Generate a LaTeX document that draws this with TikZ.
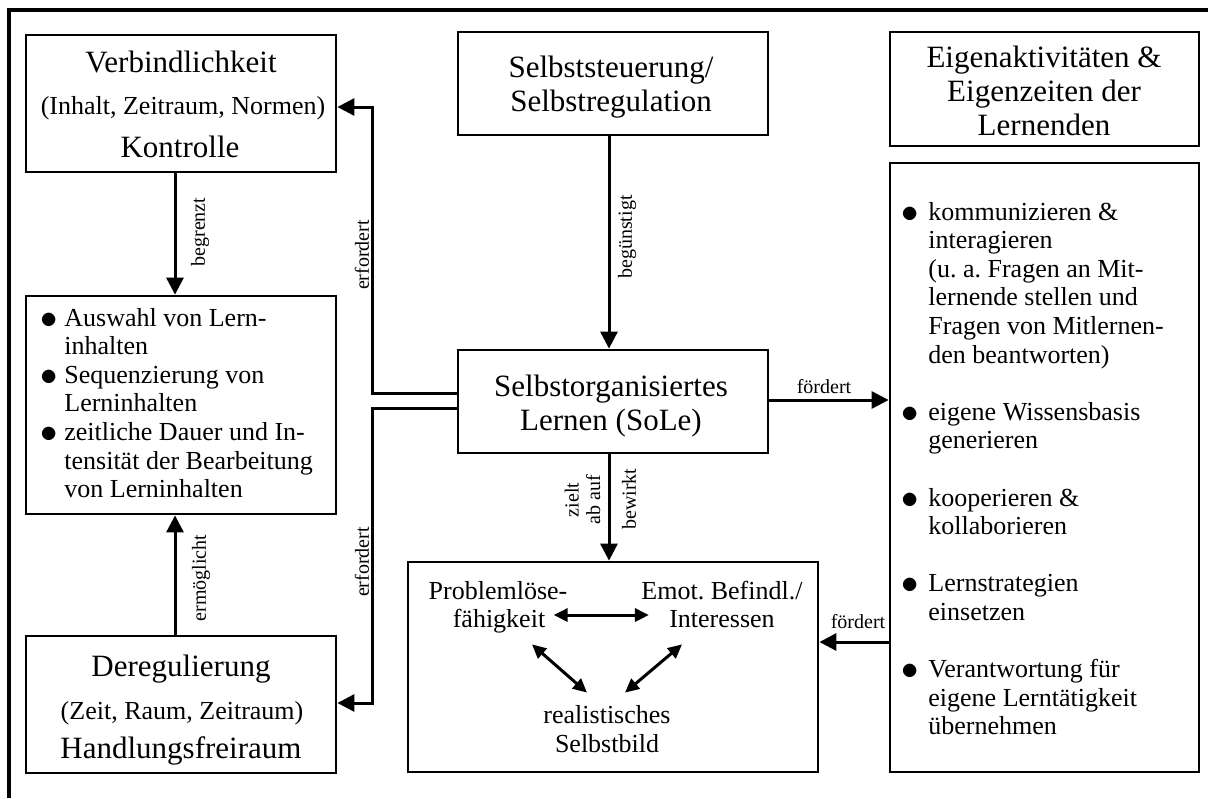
\documentclass[tikz,border=0pt]{standalone}
\usepackage{fontspec}
\setmainfont{Liberation Serif}
\usetikzlibrary{arrows.meta}
\newcommand\tfont{\fontsize{15.5}{17}\selectfont}
\newcommand\bfont{\fontsize{13}{14.3}\selectfont}
\newcommand\lfont{\fontsize{10}{10.75}\selectfont}
\newcommand\bul{\raisebox{-1pt}{\fontsize{17}{14.3}\selectfont$\bullet$}}
\frenchspacing
\begin{document}
\begin{tikzpicture}[x=0.5pt,y=-0.5pt,
  box/.style={draw,line width=1.4pt,inner sep=0pt,rectangle},
  arr/.style={line width=1.5pt,-{Triangle[length=8.5pt,width=8.5pt]}},
  darr/.style={line width=1.5pt,{Triangle[length=7pt,width=6.5pt]}-{Triangle[length=7pt,width=6.5pt]}},
  ttl/.style={font=\tfont,inner sep=0pt,anchor=base},
  txt/.style={font=\bfont,inner sep=0pt,anchor=base},
  inr/.style={font=\bfont,inner sep=0pt,anchor=base,text height=9pt,text depth=3pt},
  lbl/.style={font=\lfont,inner sep=0pt,rotate=90},
  hlbl/.style={font=\lfont,inner sep=0pt}]
\useasboundingbox (0,0) rectangle (1208,798);
\draw[line width=1.8pt] (9,798) -- (9,10) -- (1208,10);

% left column
\node[box,minimum width=155pt,minimum height=68.5pt] (b1) at (181,103.5) {};
\node[ttl] (b1a) at (181,72) {Verbindlichkeit};
\node[txt] (b1b) at (183,114) {(Inhalt, Zeitraum, Normen)};
\node[ttl] (b1c) at (180,157) {Kontrolle};

\node[box,minimum width=155pt,minimum height=109pt] (b2) at (181,405) {};
\node[txt,anchor=base west] (b2t) at (40,326) {\begin{tabular}[t]{@{}p{12pt}@{}l@{}}
\bul & Auswahl von Lern-\\
 & inhalten\\
\bul & Sequenzierung von\\
 & Lerninhalten\\
\bul & zeitliche Dauer und In-\\
 & tensität der Bearbeitung\\
 & von Lerninhalten
\end{tabular}};

\node[box,minimum width=155pt,minimum height=68.5pt] (b3) at (181,704.5) {};
\node[ttl] (b3a) at (181,676) {Deregulierung};
\node[txt] (b3b) at (182,719) {(Zeit, Raum, Zeitraum)};
\node[ttl] (b3c) at (181,758) {Handlungsfreiraum};

% middle column
\node[box,minimum width=155pt,minimum height=51.5pt] (bs) at (613,83.5) {};
\node[ttl] (bst) at (611,77) {\begin{tabular}[t]{@{}c@{}}Selbststeuerung/\\Selbstregulation\end{tabular}};

\node[box,minimum width=155pt,minimum height=51.5pt] (sole) at (613,401.5) {};
\node[ttl] (solet) at (611,396) {\begin{tabular}[t]{@{}c@{}}Selbstorganisiertes\\Lernen (SoLe)\end{tabular}};

\node[box,minimum width=205pt,minimum height=105pt] (bp) at (613,667) {};
\node[inr] (p1) at (498,599) {Problemlöse-};
\node[inr] (p2) at (499,627) {fähigkeit};
\node[inr] (e1) at (722,599) {Emot. Befindl./};
\node[inr] (e2) at (722,627) {Interessen};
\node[inr] (r1) at (607,723) {realistisches};
\node[inr] (r2) at (607,752) {Selbstbild};

% right column
\node[box,minimum width=154.5pt,minimum height=57pt] (be) at (1044.5,89) {};
\node[ttl] (bet) at (1044,67) {\begin{tabular}[t]{@{}c@{}}Eigenaktivitäten \&\\Eigenzeiten der\\Lernenden\end{tabular}};

\node[box,minimum width=154.5pt,minimum height=304.5pt] (br) at (1044.5,467.5) {};
\node[txt,anchor=base west] (brt) at (901.5,220) {\begin{tabular}[t]{@{}p{13.25pt}@{}l@{}}
\bul & kommunizieren \&\\
 & interagieren\\
 & (u. a. Fragen an Mit-\\
 & lernende stellen und\\
 & Fragen von Mitlernen-\\
 & den beantworten)\\
 & \\
\bul & eigene Wissensbasis\\
 & generieren\\
 & \\
\bul & kooperieren \&\\
 & kollaborieren\\
 & \\
\bul & Lernstrategien\\
 & einsetzen\\
 & \\
\bul & Verantwortung für\\
 & eigene Lerntätigkeit\\
 & übernehmen
\end{tabular}};

% connectors
\draw[arr] ([xshift=-3pt]b1.south) -- ([xshift=-3pt]b2.north);
\draw[arr] ([xshift=-3pt]b3.north) -- ([xshift=-3pt]b2.south);
\draw[arr] ([xshift=-2pt]bs.south) -- ([xshift=-2pt]sole.north);
\draw[arr] ([xshift=-2pt]sole.south) -- ([xshift=-2pt]bp.north);
\draw[arr] ([yshift=4.25pt]sole.west) -| (372,107) -- ([yshift=-1.75pt]b1.east);
\draw[arr] ([yshift=-3.25pt]sole.west) -| (372,703) -- ([yshift=0.75pt]b3.east);
\draw[arr] ([yshift=0.75pt]sole.east) -- ([yshift=33.75pt]br.west);
\draw[arr] ([yshift=-87.25pt]br.west) -- ([yshift=12.5pt]bp.east);

\draw[darr] ([xshift=4pt,yshift=3pt]p2.east) -- ([xshift=-10pt,yshift=3pt]e2.west);
\draw[darr] ([xshift=16.5pt,yshift=-5.5pt]p2.south) -- ([xshift=-10pt,yshift=6pt]r1.north);
\draw[darr] ([xshift=-20pt,yshift=-5.5pt]e2.south) -- ([xshift=9pt,yshift=6pt]r1.north);

% labels
\node[lbl] (l1) at (200,232) {begrenzt};
\node[lbl] (l2) at (201,578) {ermöglicht};
\node[lbl] (l3) at (362,255) {erfordert};
\node[lbl] (l4) at (362,562) {erfordert};
\node[lbl] (l5) at (627,237) {begünstigt};
\node[lbl] (l6) at (585,500) {\begin{tabular}{@{}c@{}}zielt\\ab auf\end{tabular}};
\node[lbl] (l7) at (629,499) {bewirkt};
\node[hlbl] (l8) at (824,387) {fördert};
\node[hlbl] (l9) at (858,622) {fördert};
\end{tikzpicture}
\end{document}
